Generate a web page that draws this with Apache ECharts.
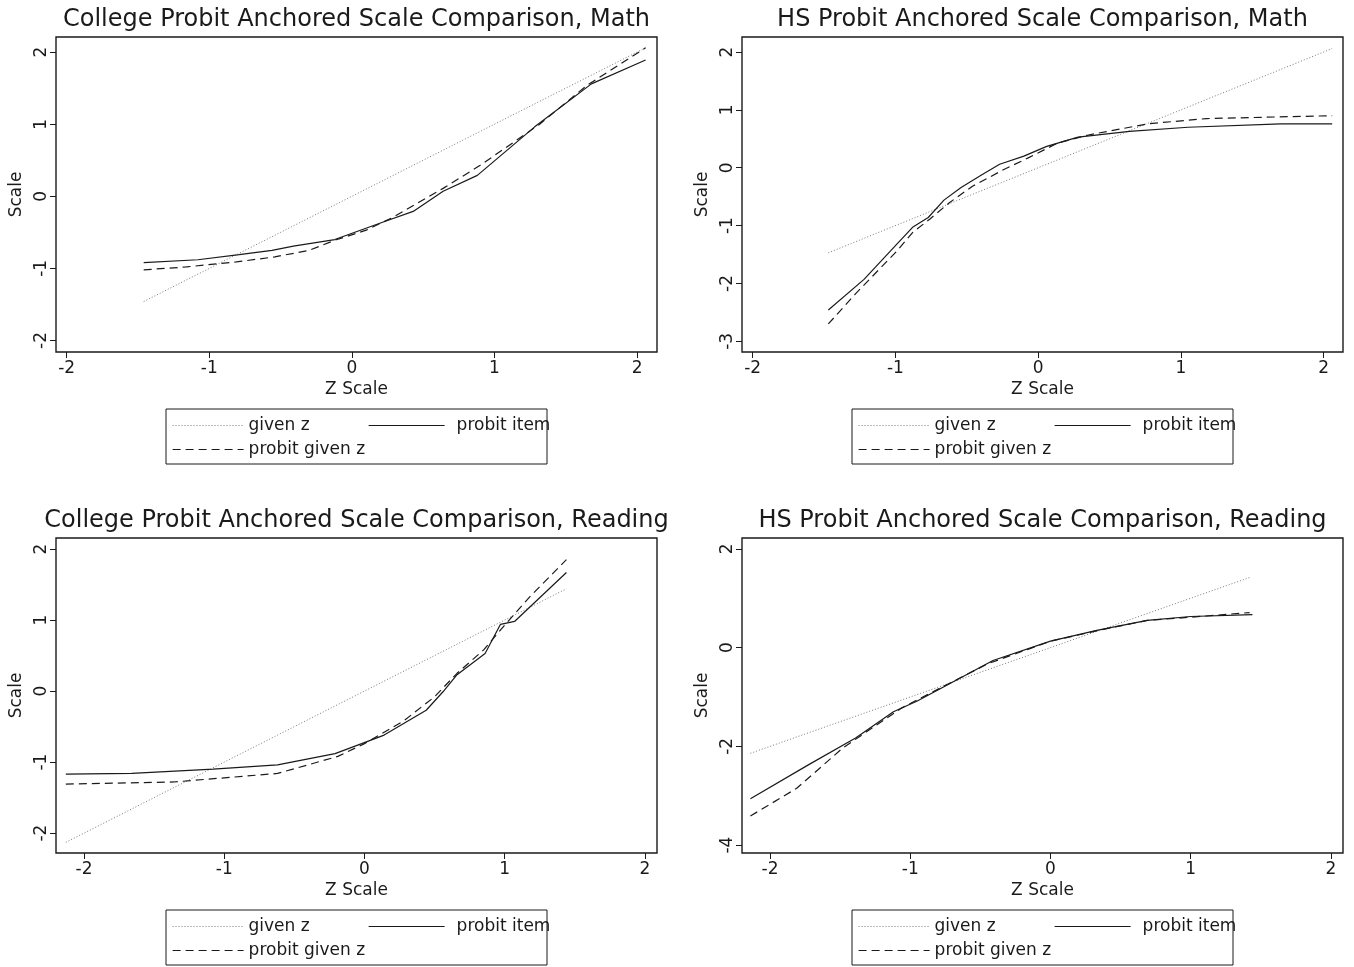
<!DOCTYPE html>
<html>
<head>
<meta charset="utf-8">
<script src="https://cdn.jsdelivr.net/npm/echarts@6/dist/echarts.min.js"></script>
<style>
  html, body { margin: 0; background: #fff; }
  #chart { width: 1354px; height: 967px; }
</style>
</head>
<body>
<div id="chart"></div>
<script>
// values, pairs are [z, scale]
const collegeMathGiven = [[-1.46, -1.46], [2.06, 2.06]]
const collegeMathItem = [[-1.46, -0.92], [-1.08, -0.88], [-0.79, -0.81], [-0.56, -0.75], [-0.41, -0.69], [-0.12, -0.6], [0.23, -0.35], [0.43, -0.21], [0.64, 0.07], [0.88, 0.29], [1.28, 0.96], [1.68, 1.56], [2.06, 1.89]]
const collegeMathProbit = [[-1.46, -1.02], [-1.16, -0.98], [-0.81, -0.91], [-0.54, -0.84], [-0.3, -0.75], [-0.12, -0.61], [0.1, -0.47], [0.29, -0.29], [0.64, 0.11], [0.9, 0.43], [1.31, 0.99], [1.65, 1.54], [2.06, 2.06]]

const hsMathGiven = [[-1.47, -1.47], [2.06, 2.06]]
const hsMathItem = [[-1.47, -2.46], [-1.22, -1.93], [-0.99, -1.32], [-0.88, -1.03], [-0.77, -0.86], [-0.66, -0.56], [-0.54, -0.34], [-0.4, -0.13], [-0.27, 0.06], [-0.1, 0.2], [0.06, 0.37], [0.28, 0.53], [0.64, 0.63], [1.05, 0.7], [1.7, 0.76], [2.06, 0.76]]
const hsMathProbit = [[-1.47, -2.7], [-1.28, -2.18], [-0.99, -1.44], [-0.88, -1.12], [-0.76, -0.89], [-0.62, -0.6], [-0.46, -0.32], [-0.24, -0.03], [-0.07, 0.17], [0.14, 0.43], [0.36, 0.57], [0.77, 0.76], [1.18, 0.85], [2.06, 0.9]]

const collegeReadGiven = [[-2.13, -2.13], [1.44, 1.44]]
const collegeReadItem = [[-2.13, -1.17], [-1.66, -1.16], [-1.08, -1.1], [-0.62, -1.04], [-0.21, -0.88], [-0.02, -0.74], [0.14, -0.62], [0.44, -0.27], [0.56, -0.01], [0.66, 0.23], [0.86, 0.53], [0.97, 0.94], [1.07, 0.98], [1.44, 1.67]]
const collegeReadProbit = [[-2.13, -1.31], [-1.36, -1.28], [-0.62, -1.16], [-0.19, -0.92], [0.0, -0.74], [0.28, -0.42], [0.5, -0.08], [0.66, 0.25], [0.85, 0.58], [1.0, 0.93], [1.18, 1.33], [1.44, 1.85]]

const hsReadGiven = [[-2.14, -2.14], [1.42, 1.42]]
const hsReadItem = [[-2.14, -3.06], [-1.73, -2.38], [-1.39, -1.83], [-1.12, -1.3], [-0.95, -1.08], [-0.7, -0.7], [-0.41, -0.26], [0.0, 0.13], [0.33, 0.35], [0.69, 0.55], [1.0, 0.63], [1.44, 0.67]]
const hsReadProbit = [[-2.14, -3.41], [-1.81, -2.85], [-1.48, -2.03], [-1.06, -1.22], [-0.78, -0.81], [-0.45, -0.33], [0.0, 0.13], [0.41, 0.39], [0.69, 0.55], [1.11, 0.64], [1.42, 0.71]]

const titles = [
  'College Probit Anchored Scale Comparison, Math',
  'HS Probit Anchored Scale Comparison, Math',
  'College Probit Anchored Scale Comparison, Reading',
  'HS Probit Anchored Scale Comparison, Reading'
]
const xTicks = [-2, -1, 0, 1, 2]
const yTicks = [[-2, -1, 0, 1, 2], [-3, -2, -1, 0, 1, 2], [-2, -1, 0, 1, 2], [-4, -2, 0, 2]]
const xRanges = [[-2.075, 2.14], [-2.075, 2.136], [-2.2, 2.086], [-2.2, 2.086]]
const yRanges = [[-2.16, 2.21], [-3.185, 2.26], [-2.28, 2.155], [-4.16, 2.22]]
const seriesNames = ['given z', 'probit item', 'probit given z']

const panelData = [
  [collegeMathGiven, collegeMathItem, collegeMathProbit],
  [hsMathGiven, hsMathItem, hsMathProbit],
  [collegeReadGiven, collegeReadItem, collegeReadProbit],
  [hsReadGiven, hsReadItem, hsReadProbit]
]

const font = 'DejaVu Sans'
const ink = '#1a1a1a'
const lineStyles = [
  { color: '#7a7a7a', width: 1, type: [1, 2] },
  { color: ink, width: 1.2, type: 'solid' },
  { color: ink, width: 1.2, type: [8, 5] }
]

// panel boxes: left, top
const boxes = [[56, 37], [742, 37], [56, 538], [742, 538]]
const boxW = 601
const boxH = 315

const chart = echarts.init(document.getElementById('chart'))

const grid = []
const xAxis = []
const yAxis = []
const series = []
const title = []
const legend = []
const graphic = []

boxes.forEach(([gl, gt], i) => {
  grid.push({ left: gl, top: gt, width: boxW, height: boxH, show: true, borderColor: ink, borderWidth: 1.4, backgroundColor: '#fff' })

  title.push({
    text: titles[i],
    left: gl + boxW / 2,
    top: gt - 29,
    textAlign: 'center',
    padding: 0,
    textStyle: { fontFamily: font, fontSize: 24, fontWeight: 'normal', color: ink }
  })

  xAxis.push({
    type: 'value', gridIndex: i,
    min: xRanges[i][0], max: xRanges[i][1],
    name: 'Z Scale', nameLocation: 'middle', nameGap: 29,
    nameTextStyle: { fontFamily: font, fontSize: 17, color: ink },
    axisLine: { show: false, onZero: false },
    splitLine: { show: false },
    axisTick: { show: true, length: 6, customValues: xTicks, lineStyle: { color: ink } },
    axisLabel: { customValues: xTicks, margin: 8, fontFamily: font, fontSize: 17, color: ink }
  })

  yAxis.push({
    type: 'value', gridIndex: i,
    min: yRanges[i][0], max: yRanges[i][1],
    name: 'Scale', nameLocation: 'middle', nameGap: 31,
    nameTextStyle: { fontFamily: font, fontSize: 17, color: ink },
    axisLine: { show: false, onZero: false },
    splitLine: { show: false },
    axisTick: { show: true, length: 6, customValues: yTicks[i], lineStyle: { color: ink } },
    axisLabel: { customValues: yTicks[i], rotate: 90, margin: 6, fontFamily: font, fontSize: 17, color: ink }
  })

  panelData[i].forEach((d, k) => {
    series.push({
      type: 'line', name: seriesNames[k],
      xAxisIndex: i, yAxisIndex: i,
      data: d, symbol: 'none', silent: true,
      color: lineStyles[k].color,
      lineStyle: lineStyles[k],
      z: k === 0 ? 2 : 3
    })
  })

  // legend box, items placed like the stata key
  graphic.push({
    type: 'rect', silent: true,
    shape: { x: gl + 110, y: gt + 372, width: 381, height: 55 },
    style: { fill: '#fff', stroke: ink, lineWidth: 1 }
  })
  const slots = [[gl + 116, gt + 380, 71], [gl + 312, gt + 380, 76], [gl + 116, gt + 404, 71]]
  slots.forEach(([lx, ly, w], k) => {
    legend.push({
      data: [seriesNames[k]], left: lx, top: ly, padding: 0,
      itemWidth: w, itemHeight: 12, selectedMode: false,
      itemStyle: { opacity: 0 },
      lineStyle: { width: lineStyles[k].width },
      textStyle: { fontFamily: font, fontSize: 17, color: ink, padding: [0, 0, 0, k === 1 ? 7 : 0] },
      z: 10
    })
  })
})

chart.setOption({
  backgroundColor: '#fff',
  animation: false,
  title, grid, xAxis, yAxis, series, legend, graphic
})
</script>
</body>
</html>
